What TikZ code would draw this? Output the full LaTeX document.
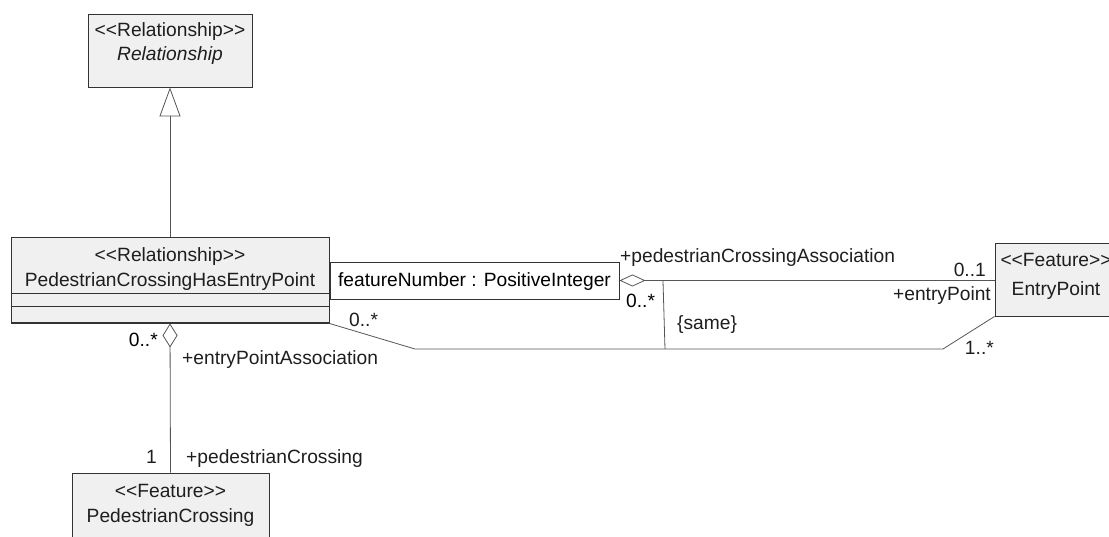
\documentclass[tikz,border=0pt]{standalone}
\usepackage{fontspec}
\setmainfont{Liberation Sans}
\usetikzlibrary{arrows.meta}
\definecolor{boxfill}{HTML}{F0F0F0}
\definecolor{boxline}{HTML}{333333}
\definecolor{conn}{HTML}{555555}
\definecolor{txt}{HTML}{1E1E1E}
\newcommand{\stereo}[1]{{<}{<}#1{>}{>}}
\begin{document}
\begin{tikzpicture}[x=1pt,y=-1pt,
  umlbox/.style={draw=boxline,fill=boxfill,line width=0.9pt,inner sep=0pt,rectangle},
  attrbox/.style={draw=boxline,fill=white,line width=0.9pt,inner sep=0pt,rectangle},
  lbl/.style={text=txt,inner sep=0pt,anchor=base,font=\fontsize{19.2}{23}\selectfont},
  conline/.style={draw=conn,line width=0.8pt},
]
\useasboundingbox (0,0) rectangle (1109,537);
\clip (0,0) rectangle (1109,537);

% boxes
\node[umlbox,minimum width=164pt,minimum height=73pt] (rel) at (170,50.5) {};
\node[umlbox,minimum width=318pt,minimum height=86pt] (cls) at (170,280) {};
\node[attrbox,minimum width=289pt,minimum height=37pt] (attr) at (474.5,280.5) {};
\node[umlbox,minimum width=122pt,minimum height=73pt] (ep) at (1056,279.5) {};
\node[umlbox,minimum width=197pt,minimum height=77pt] (pc) at (170.5,511.5) {};

% compartments of class box
\draw[boxline,line width=0.9pt] (cls.west |- 0,293) -- (cls.east |- 0,293);
\draw[boxline,line width=0.9pt] (cls.west |- 0,306) -- (cls.east |- 0,306);
\draw[boxline,line width=2pt] ([xshift=0.5pt]cls.south west) -- ([xshift=-0.5pt]cls.south east);

% box texts
\node[lbl] (relS) at (170,37) {\stereo{Relationship}};
\node[lbl] (relN) at (170,61) {\itshape Relationship};
\node[lbl] (clsS) at (170,262) {\stereo{Relationship}};
\node[lbl] (clsN) at (170,287) {PedestrianCrossingHasEntryPoint};
\node[lbl,text=black] (attrT) at (474.5,287) {featureNumber : PositiveInteger};
\node[lbl] (epS) at (1056,267) {\stereo{Feature}};
\node[lbl] (epN) at (1056,296) {EntryPoint};
\node[lbl] (pcS) at (170.5,497) {\stereo{Feature}};
\node[lbl] (pcN) at (170.5,522) {PedestrianCrossing};

% generalization
\draw[conline,-{Triangle[open,length=29pt,width=21pt]}] (cls.north) -- (rel.south);

% aggregation attr -> EntryPoint
\draw[conline,{Diamond[open,length=26pt,width=12pt]}-] (attr.east) -- (attr.east -| ep.west);

% aggregation class -> PedestrianCrossing
\draw[conline,{Diamond[open,length=24pt,width=15pt]}-] (cls.south) -- (pc.north);

% association class -> EntryPoint
\coordinate (a1) at (415,349);
\coordinate (a2) at (943,349);
\draw[conline] (cls.south east) -- (a1) -- (a2) -- (ep.south west);

% {same} constraint line
\coordinate (c1) at (663,281);
\coordinate (c2) at (665,349);
\draw[conline] (c1) -- (c2);

% labels
\node[lbl,anchor=base west] (l1) at (620,263) {+pedestrianCrossingAssociation};
\node[lbl,anchor=base east] (l2) at (986,277) {0..1};
\node[lbl,anchor=base east] (l3) at (991,301) {+entryPoint};
\node[lbl,anchor=base west,text=black] (l4) at (626,308) {0..*};
\node[lbl,anchor=base west] (l5) at (677,330) {\{same\}};
\node[lbl,anchor=base east] (l6) at (994,355) {1..*};
\node[lbl,anchor=base west] (l7) at (349,327) {0..*};
\node[lbl,anchor=base east,text=black] (l8) at (158,347) {0..*};
\node[lbl,anchor=base west] (l9) at (182,365) {+entryPointAssociation};
\node[lbl,anchor=base east] (l10) at (157,463) {1};
\node[lbl,anchor=base west] (l11) at (186,463) {+pedestrianCrossing};
\end{tikzpicture}
\end{document}
